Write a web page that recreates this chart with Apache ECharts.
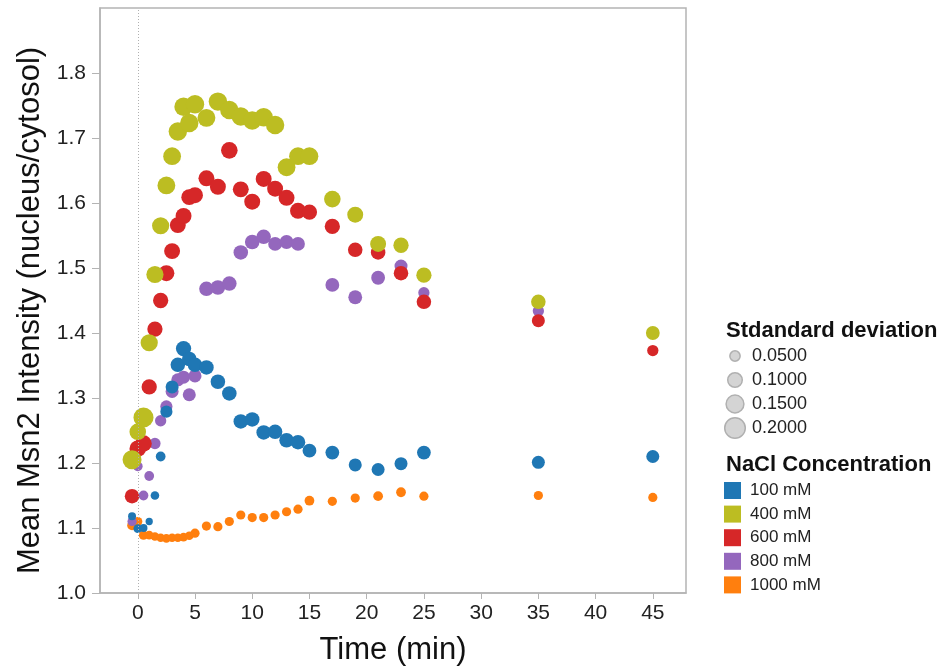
<!DOCTYPE html>
<html>
<head>
<meta charset="utf-8">
<script src="https://cdn.jsdelivr.net/npm/echarts@6/dist/echarts.min.js"></script>
<style>
  html, body { margin: 0; padding: 0; background: #fff; }
  #chart { width: 943px; height: 671px; }
</style>
</head>
<body>
<div id="chart"></div>
<script>
// time points (min)
const times = [-0.5, 0, 0.5, 1, 1.5, 2, 2.5, 3, 3.5, 4, 4.5, 5, 6, 7, 8, 9, 10, 11, 12, 13, 14, 15, 17, 19, 21, 23, 25, 35, 45]
const timesPurple = [-0.5, 0, 0.5, 1, 1.5, 2, 2.5, 3, 3.5, 4, 4.5, 5, 6, 7, 8, 9, 10, 11, 12, 13, 14, 17, 19, 21, 23, 25, 35]

// mean nucleus/cytosol ratio
const mean100 = [1.118, 1.099, 1.1, 1.11, 1.15, 1.21, 1.279, 1.317, 1.351, 1.376, 1.36, 1.351, 1.347, 1.325, 1.307, 1.264, 1.267, 1.247, 1.248, 1.235, 1.232, 1.219, 1.216, 1.197, 1.19, 1.199, 1.216, 1.201, 1.21]
const mean400 = [1.205, 1.248, 1.27, 1.385, 1.49, 1.565, 1.627, 1.672, 1.71, 1.748, 1.723, 1.752, 1.731, 1.756, 1.743, 1.733, 1.727, 1.732, 1.72, 1.655, 1.672, 1.672, 1.606, 1.582, 1.537, 1.535, 1.489, 1.448, 1.4]
const mean600 = [1.149, 1.222, 1.23, 1.317, 1.406, 1.45, 1.492, 1.526, 1.566, 1.58, 1.609, 1.612, 1.638, 1.625, 1.681, 1.621, 1.602, 1.637, 1.622, 1.608, 1.588, 1.586, 1.564, 1.528, 1.524, 1.492, 1.448, 1.419, 1.373]
const mean800 = [1.11, 1.195, 1.15, 1.18, 1.23, 1.265, 1.287, 1.31, 1.328, 1.332, 1.305, 1.334, 1.468, 1.47, 1.476, 1.524, 1.54, 1.548, 1.537, 1.54, 1.537, 1.474, 1.455, 1.485, 1.503, 1.462, 1.434]
const mean1000 = [1.104, 1.11, 1.089, 1.089, 1.087, 1.085, 1.084, 1.085, 1.085, 1.086, 1.088, 1.092, 1.103, 1.102, 1.11, 1.12, 1.116, 1.116, 1.12, 1.125, 1.129, 1.142, 1.141, 1.146, 1.149, 1.155, 1.149, 1.15, 1.147]

// standard deviation (dot size)
const sd100 = [0.03, 0.035, 0.03, 0.025, 0.035, 0.045, 0.07, 0.08, 0.1, 0.11, 0.1, 0.1, 0.1, 0.1, 0.1, 0.1, 0.1, 0.1, 0.1, 0.1, 0.1, 0.09, 0.09, 0.08, 0.08, 0.08, 0.09, 0.08, 0.08]
const sd400 = [0.17, 0.13, 0.19, 0.14, 0.14, 0.14, 0.15, 0.15, 0.16, 0.16, 0.16, 0.16, 0.15, 0.16, 0.16, 0.16, 0.16, 0.16, 0.16, 0.15, 0.15, 0.15, 0.13, 0.12, 0.12, 0.11, 0.11, 0.1, 0.09]
const sd600 = [0.1, 0.13, 0.13, 0.11, 0.11, 0.11, 0.12, 0.12, 0.12, 0.12, 0.12, 0.12, 0.12, 0.12, 0.13, 0.12, 0.12, 0.12, 0.12, 0.12, 0.12, 0.11, 0.11, 0.1, 0.1, 0.1, 0.1, 0.08, 0.06]
const sd800 = [0.04, 0.045, 0.045, 0.045, 0.06, 0.06, 0.07, 0.08, 0.08, 0.08, 0.08, 0.08, 0.1, 0.1, 0.1, 0.1, 0.1, 0.1, 0.09, 0.09, 0.09, 0.09, 0.09, 0.09, 0.08, 0.06, 0.06]
const sd1000 = [0.045, 0.04, 0.04, 0.035, 0.035, 0.035, 0.035, 0.035, 0.035, 0.035, 0.035, 0.04, 0.04, 0.04, 0.04, 0.04, 0.04, 0.04, 0.04, 0.04, 0.04, 0.045, 0.04, 0.04, 0.045, 0.045, 0.04, 0.04, 0.04]

const xTicks = [0, 5, 10, 15, 20, 25, 30, 35, 40, 45]
const sdLegend = [0.05, 0.1, 0.15, 0.2]

const font = 'Liberation Sans, Arial, sans-serif'
const sizeOf = sd => 46 * Math.sqrt(sd)

function pack(t, m, s) {
  return t.map((v, i) => [v, m[i], s[i]])
}

const groups = [
  { name: '1000 mM', color: '#ff7f0e', data: pack(times, mean1000, sd1000) },
  { name: '800 mM', color: '#9467bd', data: pack(timesPurple, mean800, sd800) },
  { name: '600 mM', color: '#d62728', data: pack(times, mean600, sd600) },
  { name: '400 mM', color: '#bcbd22', data: pack(times, mean400, sd400) },
  { name: '100 mM', color: '#1f77b4', data: pack(times, mean100, sd100) }
]

const series = groups.map((g, i) => {
  const obj = {
    name: g.name,
    type: 'scatter',
    data: g.data,
    symbolSize: val => sizeOf(val[2]),
    itemStyle: { color: g.color, opacity: 1 },
    emphasis: { disabled: true },
    animation: false
  }
  if (i === 0) {
    obj.markLine = {
      silent: true,
      symbol: 'none',
      label: { show: false },
      lineStyle: { color: '#b0b0b0', type: [1, 2], width: 1 },
      data: [{ xAxis: 0 }]
    }
  }
  return obj
})

// size legend drawn as graphics
const graphics = [{
  type: 'text', left: 726, top: 320,
  style: { text: 'Stdandard deviation', font: 'bold 22px ' + font, fill: '#111' }
}]
sdLegend.forEach((s, i) => {
  const cy = 356 + i * 24
  graphics.push({
    type: 'circle',
    shape: { cx: 735, cy: cy, r: sizeOf(s) / 2 },
    style: { fill: '#d4d4d4', stroke: '#b0b0b0', lineWidth: 1.5 }
  })
  graphics.push({
    type: 'text', left: 752, top: cy - 9,
    style: { text: s.toFixed(4), font: '18px ' + font, fill: '#222' }
  })
})
graphics.push({
  type: 'text', left: 726, top: 454,
  style: { text: 'NaCl Concentration', font: 'bold 22px ' + font, fill: '#111' }
})

const chart = echarts.init(document.getElementById('chart'))
chart.setOption({
  backgroundColor: '#fff',
  animation: false,
  grid: {
    left: 100, right: 257, top: 8, bottom: 76,
    show: true, borderColor: '#b4b4b4', borderWidth: 1.5
  },
  legend: {
    orient: 'vertical',
    left: 724, top: 482,
    padding: 0,
    data: ['100 mM', '400 mM', '600 mM', '800 mM', '1000 mM'],
    icon: 'rect',
    itemWidth: 17, itemHeight: 17, itemGap: 6.6,
    selectedMode: false,
    textStyle: { fontFamily: font, fontSize: 17, color: '#222', padding: [0, 0, 0, 4] }
  },
  xAxis: {
    type: 'value',
    min: -3.3, max: 47.9,
    name: 'Time (min)',
    nameLocation: 'middle',
    nameGap: 42,
    nameTextStyle: { fontFamily: font, fontSize: 31, color: '#111' },
    splitLine: { show: false },
    axisLine: { show: true, onZero: false, lineStyle: { color: '#b4b4b4', width: 1.5 } },
    axisTick: { show: true, length: 6, customValues: xTicks, lineStyle: { color: '#b4b4b4' } },
    axisLabel: { customValues: xTicks, fontFamily: font, fontSize: 21, color: '#222', margin: 10 }
  },
  yAxis: {
    type: 'value',
    min: 1.0, max: 1.9, interval: 0.1,
    name: 'Mean Msn2 Intensity (nucleus/cytosol)',
    nameLocation: 'middle',
    nameGap: 52,
    nameTextStyle: { fontFamily: font, fontSize: 31, color: '#111', padding: [0, 20, 0, 0] },
    splitLine: { show: false },
    axisLine: { show: true, onZero: false, lineStyle: { color: '#b4b4b4', width: 1.5 } },
    axisTick: { show: true, length: 8, lineStyle: { color: '#b4b4b4' } },
    axisLabel: {
      fontFamily: font, fontSize: 21, color: '#222', margin: 14,
      showMaxLabel: false,
      formatter: v => v.toFixed(1)
    }
  },
  graphic: graphics,
  series: series
})
</script>
</body>
</html>
